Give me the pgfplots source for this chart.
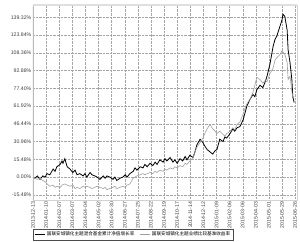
\documentclass[border=0pt]{standalone}
\usepackage{pgfplots}
\pgfplotsset{compat=1.18}
\usepackage{fontspec}
\setmainfont{Liberation Sans}
\newfontfamily\cjk{Noto Sans CJK SC}
\usetikzlibrary{calc}
\begin{document}
\begin{tikzpicture}
\begin{axis}[
  scale only axis, width=264bp, height=195bp,
  xmin=0, xmax=564, ymin=-20, ymax=150,
  xtick={0,28,...,560},
  xticklabels={2013-12-13,2014-01-10,2014-02-07,2014-03-07,2014-04-04,2014-05-02,2014-05-30,2014-06-27,2014-07-25,2014-08-22,2014-09-19,2014-10-17,2014-11-14,2014-12-12,2015-01-09,2015-02-06,2015-03-06,2015-04-03,2015-05-01,2015-05-29,2015-06-26},
  xticklabel style={rotate=90, anchor=east, font=\fontsize{5.2bp}{6bp}\selectfont, text=black!75, inner sep=1.5bp},
  ytick={-15.48,0,15.48,30.96,46.44,61.92,77.40,92.88,108.36,123.84,139.32},
  yticklabels={-15.48\%,0.00\%,15.48\%,30.96\%,46.44\%,61.92\%,77.40\%,92.88\%,108.36\%,123.84\%,139.32\%},
  yticklabel style={font=\fontsize{5.2bp}{6bp}\selectfont, text=black!75, inner sep=1.5bp},
  tick style={draw=none},
  grid=major,
  major grid style={densely dotted, gray!70, line width=0.4bp},
  axis line style={gray!35},
  legend style={at={(0,-0.148)}, anchor=north west, legend columns=2, draw=black!70, line width=0.4bp,
    font=\cjk\fontsize{4.6bp}{5.5bp}\selectfont, inner sep=1bp, row sep=0pt,
    /tikz/every even column/.append style={column sep=3bp}},
  legend image code/.code={\draw[#1] (0bp,0bp) -- (10bp,0bp);},
]
\addplot[black, line width=0.8bp] coordinates {
(0,0)(4,-1)(9,1)(15,-2)(21,1)(26,0)(30,3)(36,2)(43,7)(47,5)(51,9)(58,11)(62,14)(64,12)(68,16)(73,9)(79,7)(85,4)(90,6)(94,2)(100,3)(107,1)(111,3)(115,0)(122,4)(126,2)(132,1)(137,0)(143,-2)(150,1)(154,-1)(158,1)(164,0)(171,-2)(175,0)(179,-3)(186,-1)(192,0)(197,2)(201,0)(207,3)(214,5)(218,8)(222,6)(229,9)(235,8)(239,11)(244,9)(250,12)(256,10)(261,13)(265,11)(271,15)(278,13)(282,16)(286,14)(293,17)(299,13)(303,15)(308,12)(314,16)(320,14)(325,18)(329,15)(335,19)(342,17)(346,22)(350,28)(357,33)(363,30)(367,27)(372,24)(378,22)(384,20)(389,23)(393,24)(399,33)(406,31)(410,35)(414,34)(421,38)(427,42)(431,40)(436,43)(442,44)(449,50)(453,56)(457,62)(464,68)(470,72)(474,70)(478,76)(485,80)(491,78)(496,83)(500,88)(506,98)(513,114)(517,120)(521,123)(528,132)(532,137)(534,142)(538,140)(543,128)(545,111)(549,100)(553,85)(555,70)(558,65)
};
\addlegendentry{国联安城镇化主题混合基金累计净值增长率}
\addplot[gray!75, line width=0.6bp] coordinates {
(0,0)(4,-1)(9,-2)(15,-1)(21,-3)(26,-4)(30,-6)(36,-8)(43,-7)(47,-9)(51,-8)(58,-9)(62,-7)(68,-6)(73,-7)(79,-8)(85,-7)(90,-10)(94,-9)(100,-10)(107,-8)(111,-9)(115,-8)(122,-9)(126,-10)(132,-9)(137,-8)(143,-9)(150,-10)(154,-9)(158,-11)(164,-10)(171,-9)(175,-8)(179,-10)(186,-9)(192,-8)(197,-9)(201,-7)(207,-6)(214,-1)(218,0)(222,1)(229,2)(235,3)(239,2)(244,3)(250,4)(256,3)(261,5)(265,4)(271,6)(278,5)(282,7)(286,6)(293,8)(299,7)(303,9)(308,8)(314,10)(320,9)(325,12)(329,11)(335,14)(342,17)(346,22)(350,26)(357,30)(363,34)(367,38)(372,42)(378,46)(384,42)(389,40)(393,38)(399,40)(406,37)(410,36)(414,38)(421,40)(427,43)(431,41)(436,46)(442,48)(449,55)(453,60)(457,64)(464,68)(470,74)(474,80)(478,87)(485,85)(491,82)(496,84)(500,83)(506,90)(513,95)(517,102)(521,104)(528,107)(532,110)(534,109)(538,107)(543,100)(545,85)(549,88)(553,75)(555,70)(558,70)
};
\addlegendentry{国联安城镇化主题业绩比较基准收益率}
\draw[gray!55, line width=2.5bp] (rel axis cs:0,0) -- (rel axis cs:0,1);
\draw[gray!50, line width=0.5bp] (rel axis cs:0,0) -- (rel axis cs:1,0);
\draw[gray!50, line width=0.5bp] ([yshift=-1.5bp]rel axis cs:0,0) -- ([yshift=-1.5bp]rel axis cs:1,0);
\draw[gray!25, line width=1.5bp] (rel axis cs:0,1) -- (rel axis cs:1,1);
\end{axis}
\pgfresetboundingbox
\path ($(current axis.south west)+(-33bp,-42bp)$) rectangle ($(current axis.north east)+(3bp,5bp)$);
\end{tikzpicture}
\end{document}
